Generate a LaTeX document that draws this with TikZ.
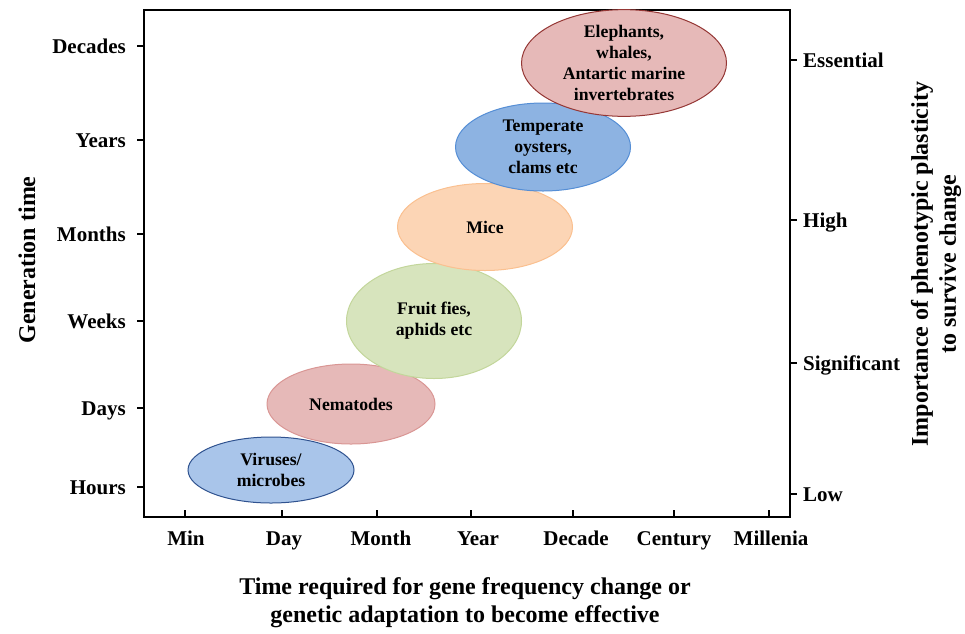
\documentclass[tikz,border=0pt]{standalone}
\usepackage{fontspec}
\setmainfont{Liberation Serif}
\usepackage{tikz}
\usetikzlibrary{shapes.geometric,positioning}

\definecolor{virusfill}{HTML}{A9C5EA}
\definecolor{virusdraw}{HTML}{2F528F}
\definecolor{nemafill}{HTML}{E6B9B8}
\definecolor{nemadraw}{HTML}{D99694}
\definecolor{flyfill}{HTML}{D7E4BD}
\definecolor{flydraw}{HTML}{C3D69B}
\definecolor{micefill}{HTML}{FCD5B5}
\definecolor{micedraw}{HTML}{FAC090}
\definecolor{oysterfill}{HTML}{8DB3E2}
\definecolor{oysterdraw}{HTML}{558ED5}
\definecolor{elephfill}{HTML}{E6B9B8}
\definecolor{elephdraw}{HTML}{953735}

\begin{document}
\begin{tikzpicture}[
      x=1pt, y=-1pt,
      axis/.style={line width=1.4pt},
      tick/.style={line width=1.2pt},
      ticklabel/.style={font=\fontsize{21}{23}\selectfont\bfseries, inner sep=0pt},
      title/.style={font=\fontsize{24}{28}\selectfont\bfseries, align=center, inner sep=0pt},
      group/.style={
        ellipse, line width=1pt, inner sep=0pt,
        align=center,
        font=\fontsize{17.7}{21}\selectfont\bfseries
      }
    ]
    \useasboundingbox (0,0) rectangle (965,633);

    % Frame of the plot
    \draw[axis] (144,10) rectangle (790,517);

    % Left axis: generation time
    \foreach \lab/\y in {Decades/46, Years/140, Months/234, Weeks/321, Days/408, Hours/487} {
        \draw[tick] (137,\y) -- (144,\y);
        \node[ticklabel, anchor=base east] (gen\lab) at (126,\y+7) {\lab};
    }

    % Right axis: importance of plasticity
    \foreach \lab/\y in {Essential/60, High/220, Significant/363, Low/494} {
        \draw[tick] (790,\y) -- (797,\y);
        \node[ticklabel, anchor=base west] (imp\lab) at (803,\y+7) {\lab};
    }

    % Bottom axis: time for genetic adaptation
    \foreach \lab/\x/\tx in {Min/185/186, Day/282/284, Month/377/381, Year/471/478, Decade/573/576, Century/674/674, Millenia/769/771} {
        \draw[tick] (\x,510) -- (\x,517);
        \node[ticklabel, anchor=base] (adapt\lab) at (\tx,545) {\lab};
    }

    % Axis titles
    \node[title, rotate=90] (gentitle) at (27,260) {Generation time};
    \node[title] (adapttitle) at (465,603) {Time required for gene frequency change or\\genetic adaptation to become effective};
    \node[title, rotate=90] (imptitle) at (936,264) {Importance of phenotypic plasticity\\to survive change};

    % Organism groups, lowest first
    \node[group, fill=virusfill, draw=virusdraw, minimum width=166pt, minimum height=66pt]
        (virus) at (271,470) {Viruses/\\microbes};
    \node[group, fill=nemafill, draw=nemadraw, minimum width=168pt, minimum height=80pt]
        (nema) at (351,404) {Nematodes};
    \node[group, fill=flyfill, draw=flydraw, minimum width=175pt, minimum height=115pt]
        (fly) at (434,321) {Fruit fies,\\aphids etc};
    \node[group, fill=micefill, draw=micedraw, minimum width=175pt, minimum height=87pt]
        (mice) at (485,227) {Mice};
    \node[group, fill=oysterfill, draw=oysterdraw, minimum width=175pt, minimum height=88pt]
        (oyster) at (543,147) {Temperate\\oysters,\\clams etc};
    \node[group, fill=elephfill, draw=elephdraw, minimum width=205pt, minimum height=94pt]
        (eleph) at (624,63) {Elephants,\\whales,\\Antartic marine\\invertebrates};
\end{tikzpicture}
\end{document}
